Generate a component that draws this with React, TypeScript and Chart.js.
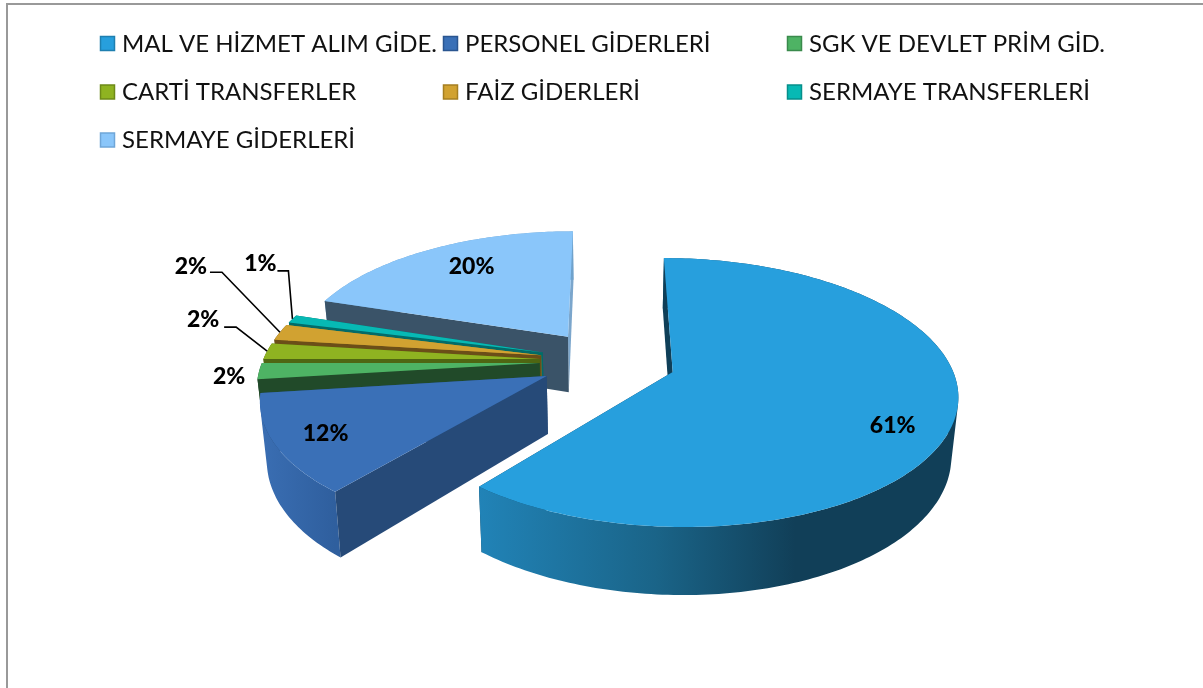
import React, { useEffect, useRef } from "react";
import { Chart, registerables } from "chart.js";

Chart.register(...registerables);

// ---- data ----
const categories = [
  "MAL VE HİZMET ALIM GİDE.",
  "PERSONEL GİDERLERİ",
  "SGK VE DEVLET PRİM GİD.",
  "CARTİ TRANSFERLER",
  "FAİZ GİDERLERİ",
  "SERMAYE TRANSFERLERİ",
  "SERMAYE GİDERLERİ",
];
const shares = [61, 12, 2, 2, 2, 1, 20];

// ---- colours ----
const topColors = ["#279FDD", "#3A70B7", "#4EB364", "#8FB321", "#D1A231", "#07B9B4", "#8AC6FA"];
const cutColors = ["#0F3F58", "#264A78", "#214A29", "#4F6612", "#6B4E18", "#036B68", "#3A5368"];
const backCutColors = ["#0F3F58", "#264A78", "#214A29", "#4F6612", "#B08A2A", "#036B68", "#7BA6CC"];
const rimStops: string[][] = [
  ["#2183B7", "#1A6488", "#113F58", "#113F58"],
  ["#3A6EB3", "#2F5F9E"],
  ["#214A29", "#214A29"],
  ["#4F6612", "#4F6612"],
  ["#6B4E18", "#6B4E18"],
  ["#036B68", "#036B68"],
  ["#6FA2CC", "#6FA2CC"],
];
const legendBorders = ["#1E7FB0", "#2A5590", "#3A8A4C", "#6E8A18", "#A57F22", "#068F8B", "#6FA6D8"];

// ---- layout of the tilted view ----
const TILT = 128 / 277;
const PERSPECTIVE = 0.15;
const DEPTH = 57;
const FLOOR_SHRINK = 0.98;
const explodeOffsets = [70, 66.5, 66.5, 66.5, 66.5, 66.5, 66.5];
const RADIUS = 277;
const PAINT_ORDER = [6, 5, 4, 3, 2, 1, 0];

const legendColumns = [100, 443, 787];
const legendRows = [44, 92.5, 140.5];

const FONT = "Lato";
const LEGEND_FONT = `24px ${FONT}`;
const LABEL_FONT = `900 23px ${FONT}`;

// inside labels: fraction of radius and angle from the top in degrees; outside labels: offset from rim tip
const insideLabels: Record<number, [number, number]> = { 0: [0.82, 118], 1: [0.83, 240.5], 6: [0.75, 327.4] };
const outsideLabels: Record<number, { label: [number, number]; leader?: [number, number][] }> = {
  2: { label: [-30, 5] },
  3: { label: [-64, -32], leader: [[-31, -24], [-43, -24]] },
  4: { label: [-89, -66], leader: [[-58, -60], [-70, -60]] },
  5: { label: [-32, -55], leader: [[-4, -48], [-15, -48]] },
};

type Pt = { x: number; y: number };

const signedArea = (pts: Pt[]) =>
  pts.reduce((sum, p, i) => {
    const q = pts[(i + 1) % pts.length];
    return sum + p.x * q.y - q.x * p.y;
  }, 0);

const pie3d = {
  id: "pie3d",
  beforeDatasetDraw(chart: any, args: any) {
    const ctx = chart.ctx as CanvasRenderingContext2D;
    const arcs = args.meta.data;

    const project = (cx: number, cy: number, R: number, px: number, py: number) => {
      const u = (px - cx) / R;
      const v = (py - cy) / R;
      const w = 1 - PERSPECTIVE * v;
      return { x: cx + (R * u) / w, y: cy + (R * TILT * v) / w, w };
    };

    const trace = (pts: Pt[]) => {
      pts.forEach((p, i) => (i ? ctx.lineTo(p.x, p.y) : ctx.moveTo(p.x, p.y)));
      ctx.closePath();
    };
    const poly = (pts: Pt[], fill: any) => {
      ctx.beginPath();
      trace(pts);
      ctx.fillStyle = fill;
      ctx.fill();
    };

    const geometry = (el: any) => {
      const mid = (el.startAngle + el.endAngle) / 2;
      const off = el.options.offset || 0;
      return { ox: el.x + Math.cos(mid) * off, oy: el.y + Math.sin(mid) * off, mid };
    };

    for (const i of PAINT_ORDER) {
      const el = arcs[i];
      const { x: cx, y: cy, outerRadius: R, startAngle, endAngle } = el;
      const { ox, oy } = geometry(el);
      const floor = (p: { x: number; y: number; w: number }) => ({
        x: cx + (p.x - cx) * FLOOR_SHRINK,
        y: p.y + DEPTH / p.w,
        w: p.w,
      });
      const steps = Math.max(4, Math.ceil(((endAngle - startAngle) * 180) / Math.PI));
      const rim = [];
      for (let s = 0; s <= steps; s++) {
        const a = startAngle + ((endAngle - startAngle) * s) / steps;
        rim.push(project(cx, cy, R, ox + Math.cos(a) * R, oy + Math.sin(a) * R));
      }
      const apex = project(cx, cy, R, ox, oy);
      const first = rim[0];
      const last = rim[rim.length - 1];

      // rear cut face
      poly([last, apex, floor(apex), floor(last)], backCutColors[i]);

      // outer wall: same-winding strips in a single path, so neither seams nor holes show
      const xs = rim.map((p) => p.x);
      const grad = ctx.createLinearGradient(Math.min(...xs), 0, Math.max(...xs), 0);
      rimStops[i].forEach((c, k, all) => {
        grad.addColorStop(i === 0 ? [0, 0.37, 0.66, 1][k] : k / (all.length - 1), c);
      });
      ctx.beginPath();
      for (let s = 0; s < rim.length - 1; s++) {
        const quad: Pt[] = [rim[s], rim[s + 1], floor(rim[s + 1]), floor(rim[s])];
        trace(signedArea(quad) < 0 ? quad.reverse() : quad);
      }
      ctx.fillStyle = grad;
      ctx.fill();

      // front cut face
      poly([first, apex, floor(apex), floor(first)], cutColors[i]);

      // top face
      poly([apex, ...rim], el.options.backgroundColor);
    }

    // value labels
    ctx.save();
    ctx.font = LABEL_FONT;
    ctx.fillStyle = "#000";
    ctx.textAlign = "center";
    ctx.textBaseline = "middle";
    arcs.forEach((el: any, i: number) => {
      const { x: cx, y: cy, outerRadius: R } = el;
      const { ox, oy, mid } = geometry(el);
      const text = `${shares[i]}%`;
      if (insideLabels[i]) {
        const [f, deg] = insideLabels[i];
        const a = (deg * Math.PI) / 180 - Math.PI / 2;
        const p = project(cx, cy, R, ox + Math.cos(a) * R * f, oy + Math.sin(a) * R * f);
        ctx.fillText(text, p.x, p.y);
      } else {
        const tip = project(cx, cy, R, ox + Math.cos(mid) * R, oy + Math.sin(mid) * R);
        const o = outsideLabels[i];
        ctx.fillText(text, tip.x + o.label[0], tip.y + o.label[1]);
        if (o.leader) {
          ctx.beginPath();
          ctx.moveTo(tip.x, tip.y);
          o.leader.forEach(([dx, dy]) => ctx.lineTo(tip.x + dx, tip.y + dy));
          ctx.strokeStyle = "#000";
          ctx.lineWidth = 1.6;
          ctx.stroke();
        }
      }
    });
    ctx.restore();
    return false;
  },
  afterDraw(chart: any) {
    const ctx = chart.ctx as CanvasRenderingContext2D;
    ctx.save();
    ctx.font = LEGEND_FONT;
    ctx.textBaseline = "middle";
    ctx.textAlign = "left";
    chart.data.labels.forEach((label: string, i: number) => {
      const x = legendColumns[i % 3];
      const y = legendRows[Math.floor(i / 3)];
      ctx.fillStyle = topColors[i];
      ctx.fillRect(x + 0.5, y - 7.5, 14, 14);
      ctx.strokeStyle = legendBorders[i];
      ctx.lineWidth = 1.5;
      ctx.strokeRect(x + 0.5, y - 7.5, 14, 14);
      ctx.fillStyle = "#111";
      ctx.fillText(label, x + 22, y);
    });
    ctx.restore();
  },
};

export default function App() {
  const ref = useRef<HTMLCanvasElement | null>(null);
  useEffect(() => {
    if (!ref.current) return;
    const chart = new Chart(ref.current, {
      type: "pie",
      data: {
        labels: categories,
        datasets: [
          {
            data: shares,
            backgroundColor: topColors,
            borderWidth: 0,
            offset: explodeOffsets,
            radius: RADIUS,
          } as any,
        ],
      },
      options: {
        responsive: false,
        animation: false,
        events: [],
        layout: { padding: { left: 9, right: 0, top: 34, bottom: 0 } },
        plugins: { legend: { display: false }, tooltip: { enabled: false } },
      },
      plugins: [pie3d],
    } as any);
    return () => chart.destroy();
  }, []);
  return (
    <div style={{ position: "fixed", left: 0, top: 0, width: 1203, height: 688, background: "#fff", overflow: "hidden" }}>
      <canvas ref={ref} width={1203} height={688} style={{ display: "block" }} />
      <div
        style={{
          position: "absolute",
          left: 6,
          top: 3,
          right: -2,
          bottom: -2,
          borderTop: "2px solid #999",
          borderLeft: "2px solid #999",
          pointerEvents: "none",
        }}
      />
    </div>
  );
}
